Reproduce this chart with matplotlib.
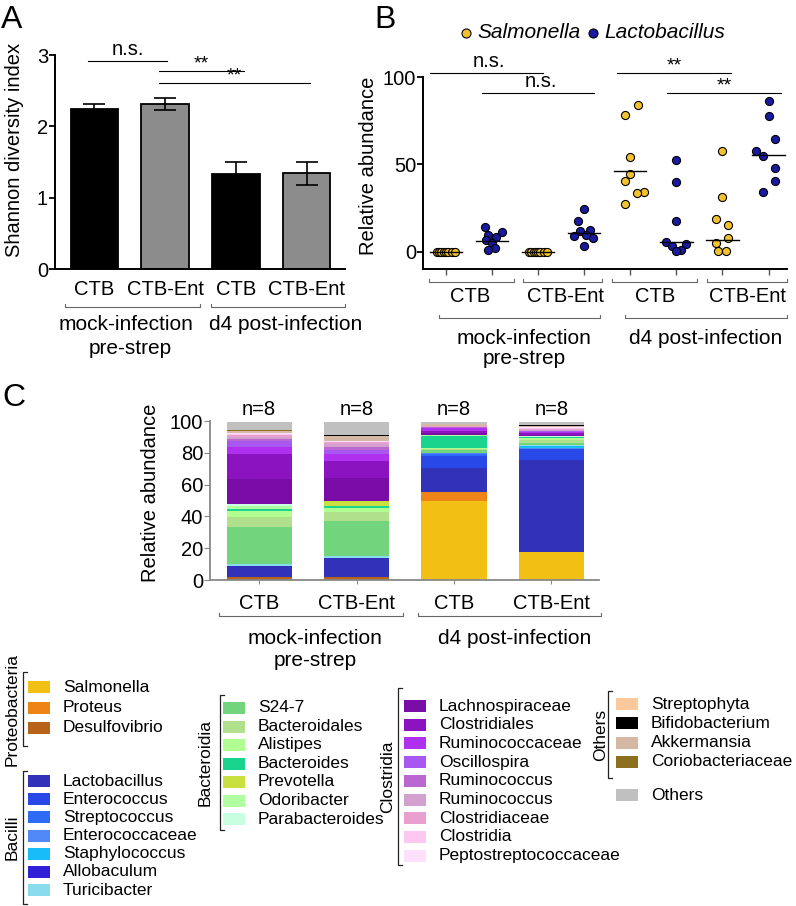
import matplotlib.pyplot as plt
from matplotlib.patches import Rectangle

plt.rcParams['font.family'] = ['Liberation Sans', 'DejaVu Sans']
plt.rcParams['font.size'] = 14.5

W, H = 796, 906

# ---- panel A: Shannon diversity
grp_labels = ['CTB', 'CTB-Ent', 'CTB', 'CTB-Ent']
shannon_mean = [2.24, 2.31, 1.33, 1.34]
shannon_sem = [0.07, 0.085, 0.17, 0.165]

# ---- panel B: relative abundance per mouse (%)
sal_ctb_mock = [0, 0, 0, 0, 0, 0, 0, 0]
lac_ctb_mock = [13.9, 11.2, 9.7, 8.2, 6.9, 5.0, 2.1, 1.1]
sal_ent_mock = [0, 0, 0, 0, 0, 0, 0, 0]
lac_ent_mock = [24.4, 17.5, 12.2, 12.0, 9.5, 9.1, 7.6, 3.0]
sal_ctb_d4 = [83.8, 78.3, 54.1, 44.6, 40.4, 34.1, 33.5, 27.0]
lac_ctb_d4 = [52.2, 40.0, 17.3, 5.5, 4.4, 3.4, 1.1, 0.2]
sal_ent_d4 = [57.7, 31.0, 18.7, 15.4, 7.8, 5.0, 0.4, 0.4]
lac_ent_d4 = [86.3, 77.5, 64.4, 57.7, 54.5, 47.8, 40.4, 34.1]
b_medians = [0, 5.9, 0, 10.7, 46.1, 5.5, 6.7, 55.4]

# ---- panel C: mean community composition (%)
taxa = ['Salmonella', 'Proteus', 'Desulfovibrio',
        'Lactobacillus', 'Enterococcus', 'Streptococcus', 'Enterococcaceae',
        'Staphylococcus', 'Allobaculum', 'Turicibacter',
        'S24-7', 'Bacteroidales', 'Alistipes', 'Bacteroides', 'Prevotella',
        'Odoribacter', 'Parabacteroides',
        'Lachnospiraceae', 'Clostridiales', 'Ruminococcaceae', 'Oscillospira',
        'Ruminococcus', 'Ruminococcus', 'Clostridiaceae', 'Clostridia',
        'Peptostreptococcaceae',
        'Streptophyta', 'Bifidobacterium', 'Akkermansia', 'Coriobacteriaceae',
        'Others']
taxa_colors = ['#f2c014', '#ee8418', '#b8631a',
               '#3232b8', '#2848e8', '#2e6cf8', '#5088f8', '#18bcf8', '#3020d8', '#88dcec',
               '#72d47c', '#b0e08c', '#b0ff90', '#18d48c', '#c8e040', '#b0ffa0', '#c8ffe0',
               '#7a0ca8', '#8c14c0', '#b030f0', '#a858f0', '#b868d0', '#d4a0d0',
               '#e8a0d0', '#fcc8f0', '#fce0fc',
               '#fcc89c', '#000000', '#d4b8a4', '#8c7020',
               '#c0c0c0']
ctb_mock = [0, 0, 2.0, 7.0, 0, 0, 0, 0, 0, 0.8, 23.6, 6.3, 3.6, 1.2, 0, 1.8, 1.7,
            15.8, 15.2, 4.7, 3.5, 1.5, 1.2, 1.1, 1.0, 0.4, 0, 0, 1.5, 0.6, 5.1]
ent_mock = [0, 0, 1.8, 12.2, 0, 0, 0, 0, 0, 1.0, 22.0, 6.0, 2.2, 1.3, 3.5, 0, 0,
            14.0, 11.0, 4.2, 2.6, 2.0, 1.7, 1.0, 0.6, 0.3, 0, 0.8, 3.3, 0, 8.0]
ctb_d4 = [49.9, 5.2, 0, 15.5, 7.6, 1.0, 0.9, 0, 0, 0, 1.7, 0.7, 0.7, 7.3, 0, 0.5, 0.5,
          1.2, 1.2, 1.5, 0.5, 0.3, 0.3, 0.3, 0.3, 0, 0, 0, 1.0, 0.3, 1.2]
ent_d4 = [17.8, 0, 0, 57.7, 6.7, 0, 1.0, 1.0, 0, 0.6, 1.5, 2.0, 1.0, 0.5, 0, 0.4, 0.3,
          0.8, 1.2, 0.8, 0.4, 0.3, 0.3, 0.5, 0.8, 0.5, 0, 0.7, 0.5, 0, 2.0]
legend_groups = [('Proteobacteria', 0, 3), ('Bacilli', 3, 10), ('Bacteroidia', 10, 17),
                 ('Clostridia', 17, 26), ('Others', 26, 30)]

SAL = '#f2c12e'
LAC = '#1a1aa0'

fig = plt.figure(figsize=(W / 100, H / 100), dpi=100)


def add_ax(left, top, right, bottom):
    return fig.add_axes([left / W, 1 - bottom / H, (right - left) / W, (bottom - top) / H])


# ================= A
ax_a = add_ax(55, 55, 345, 269)
xa = range(len(shannon_mean))
ax_a.bar(xa, shannon_mean, width=0.67, color=['black', '#8c8c8c', 'black', '#8c8c8c'],
         edgecolor='black', linewidth=1.3, zorder=2)
ax_a.errorbar(xa, shannon_mean, yerr=shannon_sem, fmt='none', ecolor='black',
              elinewidth=1.2, capsize=8, capthick=1.2, zorder=3)
ax_a.set_xlim(-0.556, 3.54)
ax_a.set_ylim(0, 3)
ax_a.set_yticks([0, 1, 2, 3])
ax_a.set_xticks(list(xa))
ax_a.set_xticklabels(grp_labels)
ax_a.tick_params(axis='x', length=0, pad=8)
ax_a.tick_params(axis='y', length=4, width=1.3, pad=1)
for s in ['top', 'right']:
    ax_a.spines[s].set_visible(False)
for s in ['left', 'bottom']:
    ax_a.spines[s].set_linewidth(1.4)
ax_a.set_ylabel('Shannon diversity index')
ax_a.yaxis.set_label_coords(-0.107, 0.556)

ax_a.plot([-0.09, 1.02], [2.92, 2.92], color='black', lw=0.8, clip_on=False)
ax_a.text(0.47, 2.94, 'n.s.', ha='center', va='bottom', fontsize=14.5)
ax_a.plot([0.91, 2.12], [2.78, 2.78], color='black', lw=0.8, clip_on=False)
ax_a.text(1.51, 2.76, '**', ha='center', va='bottom', fontsize=14)
ax_a.plot([0.91, 3.04], [2.61, 2.61], color='black', lw=0.8, clip_on=False)
ax_a.text(1.97, 2.59, '**', ha='center', va='bottom', fontsize=14)

# ================= B
ax_b = add_ax(423, 77, 787, 269)
b_series = [sal_ctb_mock, lac_ctb_mock, sal_ent_mock, lac_ent_mock,
            sal_ctb_d4, lac_ctb_d4, sal_ent_d4, lac_ent_d4]
b_colors = [SAL, LAC, SAL, LAC, SAL, LAC, SAL, LAC]
# horizontal spread of the dots (layout only)
b_jitter = [
    [-0.2, -0.15, -0.1, -0.05, 0.0, 0.05, 0.12, 0.2],
    [-0.145, 0.22, -0.095, 0.087, -0.14, 0.0, 0.07, -0.095],
    [-0.2, -0.15, -0.1, -0.05, 0.0, 0.05, 0.12, 0.2],
    [0.0, -0.14, 0.13, -0.087, 0.04, -0.22, 0.2, 0.0],
    [0.16, -0.116, 0.0, 0.0, -0.116, 0.29, 0.145, -0.116],
    [0.0, 0.0, 0.0, -0.22, 0.2, -0.087, 0.11, 0.0],
    [0.0, 0.0, -0.145, 0.13, 0.13, -0.145, -0.087, 0.072],
    [0.0, 0.0, 0.14, -0.275, -0.13, 0.14, 0.14, -0.13],
]
for i, vals in enumerate(b_series):
    xs = [i + j for j in b_jitter[i]]
    ax_b.scatter(xs, vals, s=34, color=b_colors[i], edgecolor='black',
                 linewidth=0.8, zorder=3, clip_on=False)
    ax_b.plot([i - 0.35, i + 0.35], [b_medians[i]] * 2, color='black', lw=1.0, zorder=4)
ax_b.set_xlim(-0.5, 7.4)
ax_b.set_ylim(-10, 100)
ax_b.set_yticks([0, 50, 100])
ax_b.set_xticks(range(8))
ax_b.set_xticklabels([])
ax_b.tick_params(axis='x', length=4, width=1.0, color='#555555')
ax_b.tick_params(axis='y', length=4, width=1.3, pad=1)
for s in ['top', 'right']:
    ax_b.spines[s].set_visible(False)
for s in ['left', 'bottom']:
    ax_b.spines[s].set_linewidth(1.4)
ax_b.set_ylabel('Relative abundance')
ax_b.yaxis.set_label_coords(-0.124, 0.54)

ax_b.plot([-0.35, 2.1], [102.3, 102.3], color='black', lw=0.8, clip_on=False)
ax_b.text(0.93, 103.5, 'n.s.', ha='center', va='bottom', fontsize=14.5)
ax_b.plot([0.78, 3.22], [90.9, 90.9], color='black', lw=0.8, clip_on=False)
ax_b.text(2.06, 92.0, 'n.s.', ha='center', va='bottom', fontsize=14.5)
ax_b.plot([3.72, 6.19], [102.3, 102.3], color='black', lw=0.8, clip_on=False)
ax_b.text(4.96, 101.5, '**', ha='center', va='bottom', fontsize=14)
ax_b.plot([4.8, 7.27], [90.9, 90.9], color='black', lw=0.8, clip_on=False)
ax_b.text(6.04, 90.1, '**', ha='center', va='bottom', fontsize=14)

# ================= C
ax_c = add_ax(210, 421, 599, 580)
c_bars = [ctb_mock, ent_mock, ctb_d4, ent_d4]
stack_order = list(range(26)) + [26, 28, 29, 27, 30]
bottoms = [0.0] * 4
for k in stack_order:
    hs = [bar[k] for bar in c_bars]
    ax_c.bar(range(4), hs, bottom=bottoms, width=0.67, color=taxa_colors[k],
             edgecolor='none', zorder=2)
    bottoms = [b + h for b, h in zip(bottoms, hs)]
for i in range(4):
    ax_c.text(i, 101.5, 'n=8', ha='center', va='bottom', fontsize=14.5)
ax_c.set_xlim(-0.505, 3.49)
ax_c.set_ylim(0, 100)
ax_c.set_yticks(range(0, 101, 20))
ax_c.set_xticks(range(4))
ax_c.set_xticklabels(grp_labels)
ax_c.tick_params(axis='x', length=3, color='#888888', pad=7)
ax_c.tick_params(axis='y', length=4, color='#888888', pad=1)
for s in ['top', 'right']:
    ax_c.spines[s].set_visible(False)
for s in ['left', 'bottom']:
    ax_c.spines[s].set_color('#888888')
    ax_c.spines[s].set_linewidth(1.3)
ax_c.set_ylabel('Relative abundance')
ax_c.yaxis.set_label_coords(-0.129, 0.547)

# ================= overlay for labels, brackets and legend (pixel coords)
ov = fig.add_axes([0, 0, 1, 1])
ov.set_xlim(0, W)
ov.set_ylim(H, 0)
ov.axis('off')


def hbracket(x0, x1, y, up=3):
    ov.plot([x0, x0, x1, x1], [y - up, y, y, y - up], color='#666666', lw=0.8)


def vbracket(x, y0, y1, arm=4):
    ov.plot([x + arm, x, x, x + arm], [y0, y0, y1, y1], color='#222222', lw=0.9)


for letter, (lx, ly) in zip('ABC', [(12, 20), (385, 20), (14, 398)]):
    ov.text(lx, ly, letter, fontsize=23, ha='center', va='center')

# A group labels
hbracket(65, 200, 307)
hbracket(211, 345, 307)
ov.text(126, 325, 'mock-infection', ha='center', va='center', fontsize=15)
ov.text(130, 348, 'pre-strep', ha='center', va='center', fontsize=15)
ov.text(286, 325, 'd4 post-infection', ha='center', va='center', fontsize=15)

# B legend + group labels
ov.plot(466, 33, 'o', ms=6.5, color=SAL, mec='black', mew=0.8)
ov.text(477, 33, 'Salmonella', style='italic', ha='left', va='center', fontsize=15)
ov.plot(593, 33, 'o', ms=6.5, color=LAC, mec='black', mew=0.8)
ov.text(604, 33, 'Lactobacillus', style='italic', ha='left', va='center', fontsize=15)
for (x0, x1), lab, cx in zip([(429, 514), (523, 602), (612, 697), (707, 787)],
                             grp_labels, [470, 565, 655, 748]):
    hbracket(x0, x1, 282)
    ov.text(cx, 296, lab, ha='center', va='center', fontsize=14.5)
hbracket(439, 600, 318)
hbracket(625, 787, 318)
ov.text(524, 338, 'mock-infection', ha='center', va='center', fontsize=15)
ov.text(524, 359, 'pre-strep', ha='center', va='center', fontsize=15)
ov.text(706, 338, 'd4 post-infection', ha='center', va='center', fontsize=15)

# C group labels
hbracket(219, 403, 616)
hbracket(418, 601, 616)
ov.text(315, 638, 'mock-infection', ha='center', va='center', fontsize=15)
ov.text(315, 660, 'pre-strep', ha='center', va='center', fontsize=15)
ov.text(515, 638, 'd4 post-infection', ha='center', va='center', fontsize=15)

# C legend
legend_cols = [
    # (label x, bracket x, patch x, text x, first row y, row step, bracket top, bracket bottom)
    (12, 23, 28, 63, 687, 20.5, 672, 746),
    (12, 23, 28, 63, 781, 18.2, 771, 904),
    (205, 220, 223, 258, 708, 18.5, 695, 830),
    (388, 398, 404, 439, 706, 18.7, 688, 865),
    (601, 608, 616, 651, 704, 19.3, 691, 778),
]
for (gname, i0, i1), (lx, bx, pxx, tx, y0, dy, bt, bb) in zip(legend_groups, legend_cols):
    vbracket(bx, bt, bb)
    ov.text(lx, (bt + bb) / 2, gname, rotation=90, ha='center', va='center', fontsize=12.5)
    for r, k in enumerate(range(i0, i1)):
        yy = y0 + r * dy
        ov.add_patch(Rectangle((pxx, yy - 6), 22, 12, color=taxa_colors[k], lw=0))
        ov.text(tx, yy, taxa[k], ha='left', va='center', fontsize=12.5)
ov.add_patch(Rectangle((616, 795 - 6), 22, 12, color=taxa_colors[30], lw=0))
ov.text(651, 795, taxa[30], ha='left', va='center', fontsize=12.5)

fig.savefig('out.png', dpi=100)
